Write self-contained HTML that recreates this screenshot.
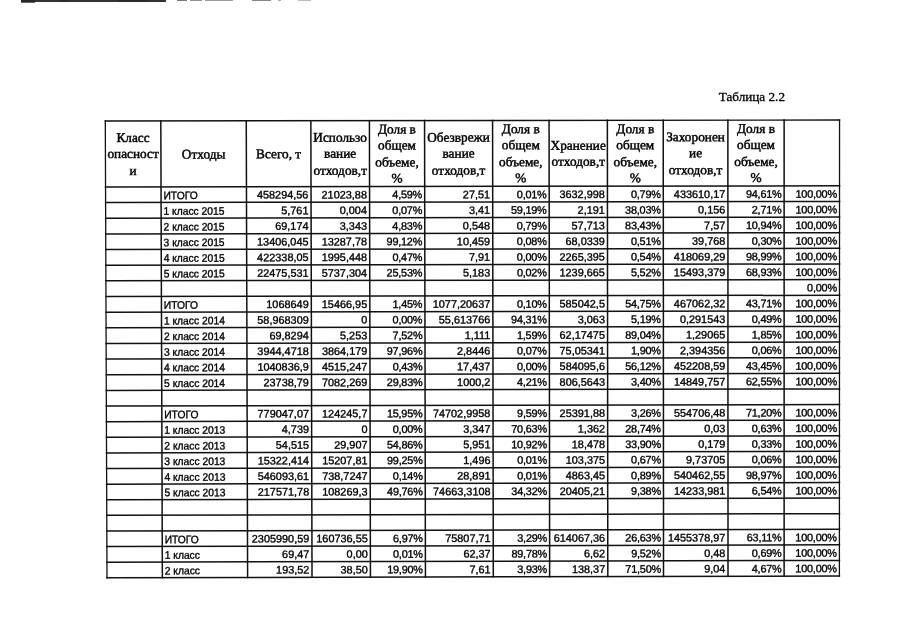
<!DOCTYPE html>
<html lang="ru">
<head>
<meta charset="utf-8">
<title>Таблица 2.2</title>
<style>
html,body{margin:0;padding:0;background:#fff;}
body{width:905px;height:640px;overflow:hidden;position:relative;}
#page{position:absolute;left:0;top:0;width:905px;height:640px;background:#fff;overflow:hidden;}
#grid{position:absolute;left:0;top:0;width:905px;height:640px;}
.c{position:absolute;white-space:nowrap;font-family:"Liberation Sans",sans-serif;font-size:10.9px;line-height:15.628px;height:15.628px;color:#000;-webkit-text-stroke:0.35px #000;}
.r{text-align:right;transform-origin:100% 50%;}
.l{text-align:left;transform-origin:0 50%;}
.p{letter-spacing:-0.22px;}
.hd{position:absolute;text-align:center;transform-origin:50% 50%;white-space:nowrap;font-family:"Liberation Serif",serif;font-size:13.3px;line-height:16.4px;color:#000;-webkit-text-stroke:0.45px #000;}
#cap{position:absolute;left:718.7px;top:88.5px;font-family:"Liberation Serif",serif;font-size:13.2px;line-height:16px;color:#000;white-space:nowrap;-webkit-text-stroke:0.3px #000;}
.art{position:absolute;background:#222;}
</style>
</head>
<body>
<div id="page">
<div class="art" style="left:20.5px;top:0;width:145px;height:1.7px;opacity:0.92"></div>
<div class="art" style="left:21px;top:0;width:14px;height:2.6px;opacity:0.7"></div>
<div class="art" style="left:60px;top:0;width:8px;height:2.4px;opacity:0.5"></div>
<div class="art" style="left:118px;top:0;width:30px;height:2.3px;opacity:0.45"></div>
<div class="art" style="left:177px;top:0;width:10px;height:1.4px;opacity:0.6"></div>
<div class="art" style="left:190px;top:0;width:12px;height:1.3px;opacity:0.5"></div>
<div class="art" style="left:205px;top:0;width:28px;height:1.2px;opacity:0.45"></div>
<div class="art" style="left:252px;top:0;width:19px;height:1.4px;opacity:0.55"></div>
<div class="art" style="left:278px;top:0;width:3px;height:1.2px;opacity:0.4"></div>
<div class="art" style="left:298px;top:0;width:13px;height:1.0px;opacity:0.3"></div>
<div id="cap">Таблица 2.2</div>
<svg id="grid" width="905" height="640" viewBox="0 0 905 640"><g stroke="#111" stroke-linecap="square" fill="none">
<line x1="105.30" y1="121.00" x2="107.00" y2="577.80" stroke-width="1.3"/>
<line x1="160.81" y1="120.93" x2="162.37" y2="577.66" stroke-width="1.5"/>
<line x1="246.26" y1="120.82" x2="247.61" y2="577.45" stroke-width="1.5"/>
<line x1="310.85" y1="120.73" x2="312.03" y2="577.30" stroke-width="1.5"/>
<line x1="369.41" y1="120.66" x2="370.44" y2="577.15" stroke-width="1.5"/>
<line x1="424.55" y1="120.59" x2="425.44" y2="577.02" stroke-width="1.5"/>
<line x1="492.57" y1="120.50" x2="493.30" y2="576.85" stroke-width="1.5"/>
<line x1="549.08" y1="120.43" x2="549.66" y2="576.71" stroke-width="1.5"/>
<line x1="607.37" y1="120.35" x2="607.80" y2="576.57" stroke-width="1.5"/>
<line x1="663.24" y1="120.28" x2="663.53" y2="576.43" stroke-width="1.5"/>
<line x1="727.89" y1="120.19" x2="728.02" y2="576.27" stroke-width="1.5"/>
<line x1="784.13" y1="120.12" x2="784.12" y2="576.14" stroke-width="1.5"/>
<line x1="839.55" y1="120.05" x2="839.40" y2="576.00" stroke-width="1.3"/>
<line x1="105.30" y1="121.00" x2="839.55" y2="120.05" stroke-width="1.4"/>
<line x1="105.55" y1="186.90" x2="839.53" y2="185.83" stroke-width="1.5"/>
<line x1="105.60" y1="202.57" x2="839.52" y2="201.47" stroke-width="1.5"/>
<line x1="105.66" y1="218.23" x2="839.52" y2="217.10" stroke-width="1.5"/>
<line x1="105.72" y1="233.90" x2="839.51" y2="232.74" stroke-width="1.5"/>
<line x1="105.78" y1="249.56" x2="839.51" y2="248.37" stroke-width="1.5"/>
<line x1="105.84" y1="265.21" x2="839.50" y2="264.00" stroke-width="1.5"/>
<line x1="105.89" y1="280.87" x2="839.50" y2="279.62" stroke-width="1.5"/>
<line x1="105.95" y1="296.52" x2="839.49" y2="295.24" stroke-width="1.5"/>
<line x1="106.01" y1="312.17" x2="839.49" y2="310.87" stroke-width="1.5"/>
<line x1="106.07" y1="327.82" x2="839.48" y2="326.48" stroke-width="1.5"/>
<line x1="106.13" y1="343.46" x2="839.48" y2="342.10" stroke-width="1.5"/>
<line x1="106.19" y1="359.10" x2="839.47" y2="357.71" stroke-width="1.5"/>
<line x1="106.24" y1="374.74" x2="839.47" y2="373.32" stroke-width="1.5"/>
<line x1="106.30" y1="390.38" x2="839.46" y2="388.93" stroke-width="1.5"/>
<line x1="106.36" y1="406.01" x2="839.46" y2="404.53" stroke-width="1.5"/>
<line x1="106.42" y1="421.64" x2="839.45" y2="420.13" stroke-width="1.5"/>
<line x1="106.48" y1="437.27" x2="839.45" y2="435.73" stroke-width="1.5"/>
<line x1="106.54" y1="452.90" x2="839.44" y2="451.33" stroke-width="1.5"/>
<line x1="106.59" y1="468.52" x2="839.44" y2="466.92" stroke-width="1.5"/>
<line x1="106.65" y1="484.14" x2="839.43" y2="482.51" stroke-width="1.5"/>
<line x1="106.71" y1="499.75" x2="839.43" y2="498.10" stroke-width="1.5"/>
<line x1="106.77" y1="515.37" x2="839.42" y2="513.69" stroke-width="1.5"/>
<line x1="106.83" y1="530.98" x2="839.42" y2="529.27" stroke-width="1.5"/>
<line x1="106.88" y1="546.59" x2="839.41" y2="544.85" stroke-width="1.5"/>
<line x1="106.94" y1="562.20" x2="839.41" y2="560.43" stroke-width="1.5"/>
<line x1="107.00" y1="577.80" x2="839.40" y2="576.00" stroke-width="1.5"/>
</g></svg>
<div class="hd" style="left:133px;top:130px;transform:translate(0.09px,0.04px) translateX(-50%) rotate(-0.11deg)">Класс<br>опасност<br>и</div>
<div class="hd" style="left:203px;top:146px;transform:translate(0.62px,0.40px) translateX(-50%) rotate(-0.11deg)">Отходы</div>
<div class="hd" style="left:278px;top:146px;transform:translate(0.63px,0.30px) translateX(-50%) rotate(-0.11deg)">Всего, т</div>
<div class="hd" style="left:340px;top:129px;transform:translate(0.15px,0.77px) translateX(-50%) rotate(-0.11deg)">Использо<br>вание<br>отходов,т</div>
<div class="hd" style="left:396px;top:121px;transform:translate(0.98px,0.47px) translateX(-50%) rotate(-0.11deg)">Доля в<br>общем<br>объеме,<br>%</div>
<div class="hd" style="left:458px;top:129px;transform:translate(0.58px,0.62px) translateX(-50%) rotate(-0.11deg)">Обезврежи<br>вание<br>отходов,т</div>
<div class="hd" style="left:520px;top:121px;transform:translate(0.83px,0.31px) translateX(-50%) rotate(-0.11deg)">Доля в<br>общем<br>объеме,<br>%</div>
<div class="hd" style="left:578px;top:137px;transform:translate(0.25px,0.67px) translateX(-50%) rotate(-0.11deg)">Хранение<br>отходов,т</div>
<div class="hd" style="left:635px;top:121px;transform:translate(0.31px,0.17px) translateX(-50%) rotate(-0.11deg)">Доля в<br>общем<br>объеме,<br>%</div>
<div class="hd" style="left:695px;top:129px;transform:translate(0.57px,0.30px) translateX(-50%) rotate(-0.11deg)">Захоронен<br>ие<br>отходов,т</div>
<div class="hd" style="left:756px;top:121px;transform:translate(0.01px,0.01px) translateX(-50%) rotate(-0.11deg)">Доля в<br>общем<br>объеме,<br>%</div>
<div class="c l" style="left:163px;top:188px;transform:translate(0.45px,0.17px) rotate(-0.11deg) scaleX(0.945)">ИТОГО</div>
<div class="c r" style="left:308px;top:187px;transform:translate(0.42px,0.46px) translateX(-100%) rotate(-0.11deg)">458294,56</div>
<div class="c r" style="left:366px;top:187px;transform:translate(0.96px,0.37px) translateX(-100%) rotate(-0.11deg)">21023,88</div>
<div class="c r p" style="left:422px;top:187px;transform:translate(0.08px,0.29px) translateX(-100%) rotate(-0.11deg)">4,59%</div>
<div class="c r" style="left:490px;top:187px;transform:translate(0.08px,0.19px) translateX(-100%) rotate(-0.11deg)">27,51</div>
<div class="c r p" style="left:546px;top:187px;transform:translate(0.57px,0.11px) translateX(-100%) rotate(-0.11deg)">0,01%</div>
<div class="c r" style="left:604px;top:187px;transform:translate(0.83px,0.02px) translateX(-100%) rotate(-0.11deg)">3632,998</div>
<div class="c r p" style="left:660px;top:186px;transform:translate(0.69px,0.94px) translateX(-100%) rotate(-0.11deg)">0,79%</div>
<div class="c r" style="left:725px;top:186px;transform:translate(0.31px,0.84px) translateX(-100%) rotate(-0.11deg)">433610,17</div>
<div class="c r p" style="left:781px;top:186px;transform:translate(0.53px,0.76px) translateX(-100%) rotate(-0.11deg)">94,61%</div>
<div class="c r p" style="left:836px;top:186px;transform:translate(0.93px,0.68px) translateX(-100%) rotate(-0.11deg)">100,00%</div>
<div class="c l" style="left:163px;top:203px;transform:translate(0.50px,0.83px) rotate(-0.11deg) scaleX(0.945)">1 класс 2015</div>
<div class="c r" style="left:308px;top:203px;transform:translate(0.46px,0.12px) translateX(-100%) rotate(-0.11deg)">5,761</div>
<div class="c r" style="left:366px;top:203px;transform:translate(0.99px,0.03px) translateX(-100%) rotate(-0.11deg)">0,004</div>
<div class="c r p" style="left:422px;top:202px;transform:translate(0.11px,0.94px) translateX(-100%) rotate(-0.11deg)">0,07%</div>
<div class="c r" style="left:490px;top:202px;transform:translate(0.11px,0.84px) translateX(-100%) rotate(-0.11deg)">3,41</div>
<div class="c r p" style="left:546px;top:202px;transform:translate(0.59px,0.76px) translateX(-100%) rotate(-0.11deg)">59,19%</div>
<div class="c r" style="left:604px;top:202px;transform:translate(0.85px,0.67px) translateX(-100%) rotate(-0.11deg)">2,191</div>
<div class="c r p" style="left:660px;top:202px;transform:translate(0.70px,0.59px) translateX(-100%) rotate(-0.11deg)">38,03%</div>
<div class="c r" style="left:725px;top:202px;transform:translate(0.32px,0.49px) translateX(-100%) rotate(-0.11deg)">0,156</div>
<div class="c r p" style="left:781px;top:202px;transform:translate(0.53px,0.40px) translateX(-100%) rotate(-0.11deg)">2,71%</div>
<div class="c r p" style="left:836px;top:202px;transform:translate(0.93px,0.32px) translateX(-100%) rotate(-0.11deg)">100,00%</div>
<div class="c l" style="left:163px;top:219px;transform:translate(0.55px,0.50px) rotate(-0.11deg) scaleX(0.945)">2 класс 2015</div>
<div class="c r" style="left:308px;top:218px;transform:translate(0.50px,0.77px) translateX(-100%) rotate(-0.11deg)">69,174</div>
<div class="c r" style="left:367px;top:218px;transform:translate(0.03px,0.68px) translateX(-100%) rotate(-0.11deg)">3,343</div>
<div class="c r p" style="left:422px;top:218px;transform:translate(0.14px,0.60px) translateX(-100%) rotate(-0.11deg)">4,83%</div>
<div class="c r" style="left:490px;top:218px;transform:translate(0.13px,0.49px) translateX(-100%) rotate(-0.11deg)">0,548</div>
<div class="c r p" style="left:546px;top:218px;transform:translate(0.61px,0.41px) translateX(-100%) rotate(-0.11deg)">0,79%</div>
<div class="c r" style="left:604px;top:218px;transform:translate(0.86px,0.32px) translateX(-100%) rotate(-0.11deg)">57,713</div>
<div class="c r p" style="left:660px;top:218px;transform:translate(0.71px,0.23px) translateX(-100%) rotate(-0.11deg)">83,43%</div>
<div class="c r" style="left:725px;top:218px;transform:translate(0.32px,0.13px) translateX(-100%) rotate(-0.11deg)">7,57</div>
<div class="c r p" style="left:781px;top:218px;transform:translate(0.53px,0.04px) translateX(-100%) rotate(-0.11deg)">10,94%</div>
<div class="c r p" style="left:836px;top:217px;transform:translate(0.92px,0.96px) translateX(-100%) rotate(-0.11deg)">100,00%</div>
<div class="c l" style="left:163px;top:235px;transform:translate(0.61px,0.16px) rotate(-0.11deg) scaleX(0.945)">3 класс 2015</div>
<div class="c r" style="left:308px;top:234px;transform:translate(0.54px,0.43px) translateX(-100%) rotate(-0.11deg)">13406,045</div>
<div class="c r" style="left:367px;top:234px;transform:translate(0.06px,0.33px) translateX(-100%) rotate(-0.11deg)">13287,78</div>
<div class="c r p" style="left:422px;top:234px;transform:translate(0.17px,0.25px) translateX(-100%) rotate(-0.11deg)">99,12%</div>
<div class="c r" style="left:490px;top:234px;transform:translate(0.16px,0.14px) translateX(-100%) rotate(-0.11deg)">10,459</div>
<div class="c r p" style="left:546px;top:234px;transform:translate(0.63px,0.05px) translateX(-100%) rotate(-0.11deg)">0,08%</div>
<div class="c r" style="left:604px;top:233px;transform:translate(0.88px,0.96px) translateX(-100%) rotate(-0.11deg)">68,0339</div>
<div class="c r p" style="left:660px;top:233px;transform:translate(0.72px,0.87px) translateX(-100%) rotate(-0.11deg)">0,51%</div>
<div class="c r" style="left:725px;top:233px;transform:translate(0.33px,0.77px) translateX(-100%) rotate(-0.11deg)">39,768</div>
<div class="c r p" style="left:781px;top:233px;transform:translate(0.53px,0.68px) translateX(-100%) rotate(-0.11deg)">0,30%</div>
<div class="c r p" style="left:836px;top:233px;transform:translate(0.92px,0.59px) translateX(-100%) rotate(-0.11deg)">100,00%</div>
<div class="c l" style="left:163px;top:250px;transform:translate(0.66px,0.82px) rotate(-0.11deg) scaleX(0.945)">4 класс 2015</div>
<div class="c r" style="left:308px;top:250px;transform:translate(0.58px,0.08px) translateX(-100%) rotate(-0.11deg)">422338,05</div>
<div class="c r" style="left:367px;top:249px;transform:translate(0.10px,0.98px) translateX(-100%) rotate(-0.11deg)">1995,448</div>
<div class="c r p" style="left:422px;top:249px;transform:translate(0.20px,0.90px) translateX(-100%) rotate(-0.11deg)">0,47%</div>
<div class="c r" style="left:490px;top:249px;transform:translate(0.18px,0.78px) translateX(-100%) rotate(-0.11deg)">7,91</div>
<div class="c r p" style="left:546px;top:249px;transform:translate(0.65px,0.69px) translateX(-100%) rotate(-0.11deg)">0,00%</div>
<div class="c r" style="left:604px;top:249px;transform:translate(0.89px,0.60px) translateX(-100%) rotate(-0.11deg)">2265,395</div>
<div class="c r p" style="left:660px;top:249px;transform:translate(0.73px,0.51px) translateX(-100%) rotate(-0.11deg)">0,54%</div>
<div class="c r" style="left:725px;top:249px;transform:translate(0.33px,0.40px) translateX(-100%) rotate(-0.11deg)">418069,29</div>
<div class="c r p" style="left:781px;top:249px;transform:translate(0.53px,0.31px) translateX(-100%) rotate(-0.11deg)">98,99%</div>
<div class="c r p" style="left:836px;top:249px;transform:translate(0.91px,0.22px) translateX(-100%) rotate(-0.11deg)">100,00%</div>
<div class="c l" style="left:163px;top:266px;transform:translate(0.71px,0.47px) rotate(-0.11deg) scaleX(0.945)">5 класс 2015</div>
<div class="c r" style="left:308px;top:265px;transform:translate(0.62px,0.73px) translateX(-100%) rotate(-0.11deg)">22475,531</div>
<div class="c r" style="left:367px;top:265px;transform:translate(0.13px,0.63px) translateX(-100%) rotate(-0.11deg)">5737,304</div>
<div class="c r p" style="left:422px;top:265px;transform:translate(0.23px,0.54px) translateX(-100%) rotate(-0.11deg)">25,53%</div>
<div class="c r" style="left:490px;top:265px;transform:translate(0.21px,0.43px) translateX(-100%) rotate(-0.11deg)">5,183</div>
<div class="c r p" style="left:546px;top:265px;transform:translate(0.67px,0.33px) translateX(-100%) rotate(-0.11deg)">0,02%</div>
<div class="c r" style="left:604px;top:265px;transform:translate(0.91px,0.24px) translateX(-100%) rotate(-0.11deg)">1239,665</div>
<div class="c r p" style="left:660px;top:265px;transform:translate(0.74px,0.14px) translateX(-100%) rotate(-0.11deg)">5,52%</div>
<div class="c r" style="left:725px;top:265px;transform:translate(0.34px,0.04px) translateX(-100%) rotate(-0.11deg)">15493,379</div>
<div class="c r p" style="left:781px;top:264px;transform:translate(0.53px,0.94px) translateX(-100%) rotate(-0.11deg)">68,93%</div>
<div class="c r p" style="left:836px;top:264px;transform:translate(0.91px,0.85px) translateX(-100%) rotate(-0.11deg)">100,00%</div>
<div class="c r p" style="left:836px;top:280px;transform:translate(0.90px,0.48px) translateX(-100%) rotate(-0.11deg)">0,00%</div>
<div class="c l" style="left:163px;top:297px;transform:translate(0.82px,0.77px) rotate(-0.11deg) scaleX(0.945)">ИТОГО</div>
<div class="c r" style="left:308px;top:297px;transform:translate(0.70px,0.02px) translateX(-100%) rotate(-0.11deg)">1068649</div>
<div class="c r" style="left:367px;top:296px;transform:translate(0.21px,0.92px) translateX(-100%) rotate(-0.11deg)">15466,95</div>
<div class="c r p" style="left:422px;top:296px;transform:translate(0.29px,0.82px) translateX(-100%) rotate(-0.11deg)">1,45%</div>
<div class="c r" style="left:490px;top:296px;transform:translate(0.26px,0.70px) translateX(-100%) rotate(-0.11deg)">1077,20637</div>
<div class="c r p" style="left:546px;top:296px;transform:translate(0.71px,0.61px) translateX(-100%) rotate(-0.11deg)">0,10%</div>
<div class="c r" style="left:604px;top:296px;transform:translate(0.94px,0.50px) translateX(-100%) rotate(-0.11deg)">585042,5</div>
<div class="c r p" style="left:660px;top:296px;transform:translate(0.76px,0.41px) translateX(-100%) rotate(-0.11deg)">54,75%</div>
<div class="c r" style="left:725px;top:296px;transform:translate(0.34px,0.29px) translateX(-100%) rotate(-0.11deg)">467062,32</div>
<div class="c r p" style="left:781px;top:296px;transform:translate(0.53px,0.20px) translateX(-100%) rotate(-0.11deg)">43,71%</div>
<div class="c r p" style="left:836px;top:296px;transform:translate(0.90px,0.10px) translateX(-100%) rotate(-0.11deg)">100,00%</div>
<div class="c l" style="left:163px;top:313px;transform:translate(0.87px,0.42px) rotate(-0.11deg) scaleX(0.945)">1 класс 2014</div>
<div class="c r" style="left:308px;top:312px;transform:translate(0.74px,0.66px) translateX(-100%) rotate(-0.11deg)">58,968309</div>
<div class="c r" style="left:367px;top:312px;transform:translate(0.24px,0.56px) translateX(-100%) rotate(-0.11deg)">0</div>
<div class="c r p" style="left:422px;top:312px;transform:translate(0.32px,0.46px) translateX(-100%) rotate(-0.11deg)">0,00%</div>
<div class="c r" style="left:490px;top:312px;transform:translate(0.28px,0.34px) translateX(-100%) rotate(-0.11deg)">55,613766</div>
<div class="c r p" style="left:546px;top:312px;transform:translate(0.73px,0.24px) translateX(-100%) rotate(-0.11deg)">94,31%</div>
<div class="c r" style="left:604px;top:312px;transform:translate(0.95px,0.13px) translateX(-100%) rotate(-0.11deg)">3,063</div>
<div class="c r p" style="left:660px;top:312px;transform:translate(0.77px,0.03px) translateX(-100%) rotate(-0.11deg)">5,19%</div>
<div class="c r" style="left:725px;top:311px;transform:translate(0.35px,0.92px) translateX(-100%) rotate(-0.11deg)">0,291543</div>
<div class="c r p" style="left:781px;top:311px;transform:translate(0.53px,0.82px) translateX(-100%) rotate(-0.11deg)">0,49%</div>
<div class="c r p" style="left:836px;top:311px;transform:translate(0.89px,0.72px) translateX(-100%) rotate(-0.11deg)">100,00%</div>
<div class="c l" style="left:163px;top:329px;transform:translate(0.93px,0.06px) rotate(-0.11deg) scaleX(0.945)">2 класс 2014</div>
<div class="c r" style="left:308px;top:328px;transform:translate(0.78px,0.30px) translateX(-100%) rotate(-0.11deg)">69,8294</div>
<div class="c r" style="left:367px;top:328px;transform:translate(0.28px,0.19px) translateX(-100%) rotate(-0.11deg)">5,253</div>
<div class="c r p" style="left:422px;top:328px;transform:translate(0.35px,0.09px) translateX(-100%) rotate(-0.11deg)">7,52%</div>
<div class="c r" style="left:490px;top:327px;transform:translate(0.31px,0.97px) translateX(-100%) rotate(-0.11deg)">1,111</div>
<div class="c r p" style="left:546px;top:327px;transform:translate(0.75px,0.87px) translateX(-100%) rotate(-0.11deg)">1,59%</div>
<div class="c r" style="left:604px;top:327px;transform:translate(0.97px,0.76px) translateX(-100%) rotate(-0.11deg)">62,17475</div>
<div class="c r p" style="left:660px;top:327px;transform:translate(0.78px,0.66px) translateX(-100%) rotate(-0.11deg)">89,04%</div>
<div class="c r" style="left:725px;top:327px;transform:translate(0.35px,0.54px) translateX(-100%) rotate(-0.11deg)">1,29065</div>
<div class="c r p" style="left:781px;top:327px;transform:translate(0.53px,0.44px) translateX(-100%) rotate(-0.11deg)">1,85%</div>
<div class="c r p" style="left:836px;top:327px;transform:translate(0.89px,0.34px) translateX(-100%) rotate(-0.11deg)">100,00%</div>
<div class="c l" style="left:163px;top:344px;transform:translate(0.98px,0.71px) rotate(-0.11deg) scaleX(0.945)">3 класс 2014</div>
<div class="c r" style="left:308px;top:343px;transform:translate(0.82px,0.94px) translateX(-100%) rotate(-0.11deg)">3944,4718</div>
<div class="c r" style="left:367px;top:343px;transform:translate(0.31px,0.83px) translateX(-100%) rotate(-0.11deg)">3864,179</div>
<div class="c r p" style="left:422px;top:343px;transform:translate(0.39px,0.72px) translateX(-100%) rotate(-0.11deg)">97,96%</div>
<div class="c r" style="left:490px;top:343px;transform:translate(0.33px,0.60px) translateX(-100%) rotate(-0.11deg)">2,8446</div>
<div class="c r p" style="left:546px;top:343px;transform:translate(0.77px,0.49px) translateX(-100%) rotate(-0.11deg)">0,07%</div>
<div class="c r" style="left:604px;top:343px;transform:translate(0.98px,0.38px) translateX(-100%) rotate(-0.11deg)">75,05341</div>
<div class="c r p" style="left:660px;top:343px;transform:translate(0.79px,0.28px) translateX(-100%) rotate(-0.11deg)">1,90%</div>
<div class="c r" style="left:725px;top:343px;transform:translate(0.36px,0.16px) translateX(-100%) rotate(-0.11deg)">2,394356</div>
<div class="c r p" style="left:781px;top:343px;transform:translate(0.53px,0.06px) translateX(-100%) rotate(-0.11deg)">0,06%</div>
<div class="c r p" style="left:836px;top:342px;transform:translate(0.88px,0.95px) translateX(-100%) rotate(-0.11deg)">100,00%</div>
<div class="c l" style="left:164px;top:360px;transform:translate(0.03px,0.34px) rotate(-0.11deg) scaleX(0.945)">4 класс 2014</div>
<div class="c r" style="left:308px;top:359px;transform:translate(0.87px,0.57px) translateX(-100%) rotate(-0.11deg)">1040836,9</div>
<div class="c r" style="left:367px;top:359px;transform:translate(0.35px,0.46px) translateX(-100%) rotate(-0.11deg)">4515,247</div>
<div class="c r p" style="left:422px;top:359px;transform:translate(0.42px,0.35px) translateX(-100%) rotate(-0.11deg)">0,43%</div>
<div class="c r" style="left:490px;top:359px;transform:translate(0.36px,0.22px) translateX(-100%) rotate(-0.11deg)">17,437</div>
<div class="c r p" style="left:546px;top:359px;transform:translate(0.79px,0.12px) translateX(-100%) rotate(-0.11deg)">0,00%</div>
<div class="c r" style="left:604px;top:359px;transform:translate(1.00px,0.01px) translateX(-100%) rotate(-0.11deg)">584095,6</div>
<div class="c r p" style="left:660px;top:358px;transform:translate(0.80px,0.90px) translateX(-100%) rotate(-0.11deg)">56,12%</div>
<div class="c r" style="left:725px;top:358px;transform:translate(0.36px,0.78px) translateX(-100%) rotate(-0.11deg)">452208,59</div>
<div class="c r p" style="left:781px;top:358px;transform:translate(0.53px,0.67px) translateX(-100%) rotate(-0.11deg)">43,45%</div>
<div class="c r p" style="left:836px;top:358px;transform:translate(0.88px,0.56px) translateX(-100%) rotate(-0.11deg)">100,00%</div>
<div class="c l" style="left:164px;top:375px;transform:translate(0.09px,0.98px) rotate(-0.11deg) scaleX(0.945)">5 класс 2014</div>
<div class="c r" style="left:308px;top:375px;transform:translate(0.91px,0.20px) translateX(-100%) rotate(-0.11deg)">23738,79</div>
<div class="c r" style="left:367px;top:375px;transform:translate(0.38px,0.09px) translateX(-100%) rotate(-0.11deg)">7082,269</div>
<div class="c r p" style="left:422px;top:374px;transform:translate(0.45px,0.98px) translateX(-100%) rotate(-0.11deg)">29,83%</div>
<div class="c r" style="left:490px;top:374px;transform:translate(0.38px,0.85px) translateX(-100%) rotate(-0.11deg)">1000,2</div>
<div class="c r p" style="left:546px;top:374px;transform:translate(0.81px,0.74px) translateX(-100%) rotate(-0.11deg)">4,21%</div>
<div class="c r" style="left:605px;top:374px;transform:translate(0.01px,0.62px) translateX(-100%) rotate(-0.11deg)">806,5643</div>
<div class="c r p" style="left:660px;top:374px;transform:translate(0.81px,0.52px) translateX(-100%) rotate(-0.11deg)">3,40%</div>
<div class="c r" style="left:725px;top:374px;transform:translate(0.37px,0.39px) translateX(-100%) rotate(-0.11deg)">14849,757</div>
<div class="c r p" style="left:781px;top:374px;transform:translate(0.53px,0.28px) translateX(-100%) rotate(-0.11deg)">62,55%</div>
<div class="c r p" style="left:836px;top:374px;transform:translate(0.87px,0.17px) translateX(-100%) rotate(-0.11deg)">100,00%</div>
<div class="c l" style="left:164px;top:407px;transform:translate(0.19px,0.25px) rotate(-0.11deg) scaleX(0.945)">ИТОГО</div>
<div class="c r" style="left:308px;top:406px;transform:translate(0.99px,0.45px) translateX(-100%) rotate(-0.11deg)">779047,07</div>
<div class="c r" style="left:367px;top:406px;transform:translate(0.46px,0.33px) translateX(-100%) rotate(-0.11deg)">124245,7</div>
<div class="c r p" style="left:422px;top:406px;transform:translate(0.51px,0.22px) translateX(-100%) rotate(-0.11deg)">15,95%</div>
<div class="c r" style="left:490px;top:406px;transform:translate(0.43px,0.09px) translateX(-100%) rotate(-0.11deg)">74702,9958</div>
<div class="c r p" style="left:546px;top:405px;transform:translate(0.85px,0.97px) translateX(-100%) rotate(-0.11deg)">9,59%</div>
<div class="c r" style="left:605px;top:405px;transform:translate(0.04px,0.85px) translateX(-100%) rotate(-0.11deg)">25391,88</div>
<div class="c r p" style="left:660px;top:405px;transform:translate(0.83px,0.74px) translateX(-100%) rotate(-0.11deg)">3,26%</div>
<div class="c r" style="left:725px;top:405px;transform:translate(0.38px,0.61px) translateX(-100%) rotate(-0.11deg)">554706,48</div>
<div class="c r p" style="left:781px;top:405px;transform:translate(0.53px,0.50px) translateX(-100%) rotate(-0.11deg)">71,20%</div>
<div class="c r p" style="left:836px;top:405px;transform:translate(0.86px,0.38px) translateX(-100%) rotate(-0.11deg)">100,00%</div>
<div class="c l" style="left:164px;top:422px;transform:translate(0.25px,0.87px) rotate(-0.11deg) scaleX(0.945)">1 класс 2013</div>
<div class="c r" style="left:309px;top:422px;transform:translate(0.03px,0.07px) translateX(-100%) rotate(-0.11deg)">4,739</div>
<div class="c r" style="left:367px;top:421px;transform:translate(0.49px,0.95px) translateX(-100%) rotate(-0.11deg)">0</div>
<div class="c r p" style="left:422px;top:421px;transform:translate(0.54px,0.84px) translateX(-100%) rotate(-0.11deg)">0,00%</div>
<div class="c r" style="left:490px;top:421px;transform:translate(0.46px,0.70px) translateX(-100%) rotate(-0.11deg)">3,347</div>
<div class="c r p" style="left:546px;top:421px;transform:translate(0.87px,0.58px) translateX(-100%) rotate(-0.11deg)">70,63%</div>
<div class="c r" style="left:605px;top:421px;transform:translate(0.06px,0.46px) translateX(-100%) rotate(-0.11deg)">1,362</div>
<div class="c r p" style="left:660px;top:421px;transform:translate(0.84px,0.35px) translateX(-100%) rotate(-0.11deg)">28,74%</div>
<div class="c r" style="left:725px;top:421px;transform:translate(0.38px,0.22px) translateX(-100%) rotate(-0.11deg)">0,03</div>
<div class="c r p" style="left:781px;top:421px;transform:translate(0.53px,0.10px) translateX(-100%) rotate(-0.11deg)">0,63%</div>
<div class="c r p" style="left:836px;top:420px;transform:translate(0.86px,0.99px) translateX(-100%) rotate(-0.11deg)">100,00%</div>
<div class="c l" style="left:164px;top:438px;transform:translate(0.30px,0.50px) rotate(-0.11deg) scaleX(0.945)">2 класс 2013</div>
<div class="c r" style="left:309px;top:437px;transform:translate(0.07px,0.69px) translateX(-100%) rotate(-0.11deg)">54,515</div>
<div class="c r" style="left:367px;top:437px;transform:translate(0.53px,0.57px) translateX(-100%) rotate(-0.11deg)">29,907</div>
<div class="c r p" style="left:422px;top:437px;transform:translate(0.57px,0.46px) translateX(-100%) rotate(-0.11deg)">54,86%</div>
<div class="c r" style="left:490px;top:437px;transform:translate(0.48px,0.31px) translateX(-100%) rotate(-0.11deg)">5,951</div>
<div class="c r p" style="left:546px;top:437px;transform:translate(0.89px,0.19px) translateX(-100%) rotate(-0.11deg)">10,92%</div>
<div class="c r" style="left:605px;top:437px;transform:translate(0.08px,0.07px) translateX(-100%) rotate(-0.11deg)">18,478</div>
<div class="c r p" style="left:660px;top:436px;transform:translate(0.85px,0.96px) translateX(-100%) rotate(-0.11deg)">33,90%</div>
<div class="c r" style="left:725px;top:436px;transform:translate(0.39px,0.82px) translateX(-100%) rotate(-0.11deg)">0,179</div>
<div class="c r p" style="left:781px;top:436px;transform:translate(0.53px,0.70px) translateX(-100%) rotate(-0.11deg)">0,33%</div>
<div class="c r p" style="left:836px;top:436px;transform:translate(0.85px,0.59px) translateX(-100%) rotate(-0.11deg)">100,00%</div>
<div class="c l" style="left:164px;top:454px;transform:translate(0.35px,0.12px) rotate(-0.11deg) scaleX(0.945)">3 класс 2013</div>
<div class="c r" style="left:309px;top:453px;transform:translate(0.11px,0.31px) translateX(-100%) rotate(-0.11deg)">15322,414</div>
<div class="c r" style="left:367px;top:453px;transform:translate(0.56px,0.19px) translateX(-100%) rotate(-0.11deg)">15207,81</div>
<div class="c r p" style="left:422px;top:453px;transform:translate(0.60px,0.07px) translateX(-100%) rotate(-0.11deg)">99,25%</div>
<div class="c r" style="left:490px;top:452px;transform:translate(0.51px,0.92px) translateX(-100%) rotate(-0.11deg)">1,496</div>
<div class="c r p" style="left:546px;top:452px;transform:translate(0.91px,0.80px) translateX(-100%) rotate(-0.11deg)">0,01%</div>
<div class="c r" style="left:605px;top:452px;transform:translate(0.09px,0.68px) translateX(-100%) rotate(-0.11deg)">103,375</div>
<div class="c r p" style="left:660px;top:452px;transform:translate(0.86px,0.56px) translateX(-100%) rotate(-0.11deg)">0,67%</div>
<div class="c r" style="left:725px;top:452px;transform:translate(0.39px,0.42px) translateX(-100%) rotate(-0.11deg)">9,73705</div>
<div class="c r p" style="left:781px;top:452px;transform:translate(0.53px,0.30px) translateX(-100%) rotate(-0.11deg)">0,06%</div>
<div class="c r p" style="left:836px;top:452px;transform:translate(0.85px,0.18px) translateX(-100%) rotate(-0.11deg)">100,00%</div>
<div class="c l" style="left:164px;top:469px;transform:translate(0.41px,0.74px) rotate(-0.11deg) scaleX(0.945)">4 класс 2013</div>
<div class="c r" style="left:309px;top:468px;transform:translate(0.15px,0.93px) translateX(-100%) rotate(-0.11deg)">546093,61</div>
<div class="c r" style="left:367px;top:468px;transform:translate(0.60px,0.80px) translateX(-100%) rotate(-0.11deg)">738,7247</div>
<div class="c r p" style="left:422px;top:468px;transform:translate(0.63px,0.68px) translateX(-100%) rotate(-0.11deg)">0,14%</div>
<div class="c r" style="left:490px;top:468px;transform:translate(0.53px,0.53px) translateX(-100%) rotate(-0.11deg)">28,891</div>
<div class="c r p" style="left:546px;top:468px;transform:translate(0.93px,0.41px) translateX(-100%) rotate(-0.11deg)">0,01%</div>
<div class="c r" style="left:605px;top:468px;transform:translate(0.11px,0.28px) translateX(-100%) rotate(-0.11deg)">4863,45</div>
<div class="c r p" style="left:660px;top:468px;transform:translate(0.87px,0.16px) translateX(-100%) rotate(-0.11deg)">0,89%</div>
<div class="c r" style="left:725px;top:468px;transform:translate(0.40px,0.02px) translateX(-100%) rotate(-0.11deg)">540462,55</div>
<div class="c r p" style="left:781px;top:467px;transform:translate(0.53px,0.90px) translateX(-100%) rotate(-0.11deg)">98,97%</div>
<div class="c r p" style="left:836px;top:467px;transform:translate(0.84px,0.77px) translateX(-100%) rotate(-0.11deg)">100,00%</div>
<div class="c l" style="left:164px;top:485px;transform:translate(0.46px,0.36px) rotate(-0.11deg) scaleX(0.945)">5 класс 2013</div>
<div class="c r" style="left:309px;top:484px;transform:translate(0.19px,0.54px) translateX(-100%) rotate(-0.11deg)">217571,78</div>
<div class="c r" style="left:367px;top:484px;transform:translate(0.63px,0.41px) translateX(-100%) rotate(-0.11deg)">108269,3</div>
<div class="c r p" style="left:422px;top:484px;transform:translate(0.66px,0.29px) translateX(-100%) rotate(-0.11deg)">49,76%</div>
<div class="c r" style="left:490px;top:484px;transform:translate(0.56px,0.13px) translateX(-100%) rotate(-0.11deg)">74663,3108</div>
<div class="c r p" style="left:546px;top:484px;transform:translate(0.95px,0.01px) translateX(-100%) rotate(-0.11deg)">34,32%</div>
<div class="c r" style="left:605px;top:483px;transform:translate(0.12px,0.88px) translateX(-100%) rotate(-0.11deg)">20405,21</div>
<div class="c r p" style="left:660px;top:483px;transform:translate(0.88px,0.76px) translateX(-100%) rotate(-0.11deg)">9,38%</div>
<div class="c r" style="left:725px;top:483px;transform:translate(0.40px,0.61px) translateX(-100%) rotate(-0.11deg)">14233,981</div>
<div class="c r p" style="left:781px;top:483px;transform:translate(0.53px,0.49px) translateX(-100%) rotate(-0.11deg)">6,54%</div>
<div class="c r p" style="left:836px;top:483px;transform:translate(0.84px,0.37px) translateX(-100%) rotate(-0.11deg)">100,00%</div>
<div class="c l" style="left:164px;top:532px;transform:translate(0.62px,0.19px) rotate(-0.11deg) scaleX(0.945)">ИТОГО</div>
<div class="c r" style="left:309px;top:531px;transform:translate(0.31px,0.36px) translateX(-100%) rotate(-0.11deg)">2305990,59</div>
<div class="c r" style="left:367px;top:531px;transform:translate(0.74px,0.22px) translateX(-100%) rotate(-0.11deg)">160736,55</div>
<div class="c r p" style="left:422px;top:531px;transform:translate(0.76px,0.09px) translateX(-100%) rotate(-0.11deg)">6,97%</div>
<div class="c r" style="left:490px;top:530px;transform:translate(0.63px,0.93px) translateX(-100%) rotate(-0.11deg)">75807,71</div>
<div class="c r p" style="left:547px;top:530px;transform:translate(0.01px,0.80px) translateX(-100%) rotate(-0.11deg)">3,29%</div>
<div class="c r" style="left:605px;top:530px;transform:translate(0.17px,0.66px) translateX(-100%) rotate(-0.11deg)">614067,36</div>
<div class="c r p" style="left:660px;top:530px;transform:translate(0.91px,0.53px) translateX(-100%) rotate(-0.11deg)">26,63%</div>
<div class="c r" style="left:725px;top:530px;transform:translate(0.42px,0.38px) translateX(-100%) rotate(-0.11deg)">1455378,97</div>
<div class="c r p" style="left:781px;top:530px;transform:translate(0.53px,0.25px) translateX(-100%) rotate(-0.11deg)">63,11%</div>
<div class="c r p" style="left:836px;top:530px;transform:translate(0.82px,0.12px) translateX(-100%) rotate(-0.11deg)">100,00%</div>
<div class="c l" style="left:164px;top:547px;transform:translate(0.67px,0.80px) rotate(-0.11deg) scaleX(0.945)">1 класс</div>
<div class="c r" style="left:309px;top:546px;transform:translate(0.35px,0.96px) translateX(-100%) rotate(-0.11deg)">69,47</div>
<div class="c r" style="left:367px;top:546px;transform:translate(0.78px,0.82px) translateX(-100%) rotate(-0.11deg)">0,00</div>
<div class="c r p" style="left:422px;top:546px;transform:translate(0.79px,0.69px) translateX(-100%) rotate(-0.11deg)">0,01%</div>
<div class="c r" style="left:490px;top:546px;transform:translate(0.66px,0.53px) translateX(-100%) rotate(-0.11deg)">62,37</div>
<div class="c r p" style="left:547px;top:546px;transform:translate(0.03px,0.39px) translateX(-100%) rotate(-0.11deg)">89,78%</div>
<div class="c r" style="left:605px;top:546px;transform:translate(0.18px,0.25px) translateX(-100%) rotate(-0.11deg)">6,62</div>
<div class="c r p" style="left:660px;top:546px;transform:translate(0.92px,0.12px) translateX(-100%) rotate(-0.11deg)">9,52%</div>
<div class="c r" style="left:725px;top:545px;transform:translate(0.42px,0.97px) translateX(-100%) rotate(-0.11deg)">0,48</div>
<div class="c r p" style="left:781px;top:545px;transform:translate(0.53px,0.83px) translateX(-100%) rotate(-0.11deg)">0,69%</div>
<div class="c r p" style="left:836px;top:545px;transform:translate(0.82px,0.70px) translateX(-100%) rotate(-0.11deg)">100,00%</div>
<div class="c l" style="left:164px;top:563px;transform:translate(0.72px,0.40px) rotate(-0.11deg) scaleX(0.945)">2 класс</div>
<div class="c r" style="left:309px;top:562px;transform:translate(0.39px,0.56px) translateX(-100%) rotate(-0.11deg)">193,52</div>
<div class="c r" style="left:367px;top:562px;transform:translate(0.81px,0.41px) translateX(-100%) rotate(-0.11deg)">38,50</div>
<div class="c r p" style="left:422px;top:562px;transform:translate(0.82px,0.28px) translateX(-100%) rotate(-0.11deg)">19,90%</div>
<div class="c r" style="left:490px;top:562px;transform:translate(0.68px,0.12px) translateX(-100%) rotate(-0.11deg)">7,61</div>
<div class="c r p" style="left:547px;top:561px;transform:translate(0.05px,0.98px) translateX(-100%) rotate(-0.11deg)">3,93%</div>
<div class="c r" style="left:605px;top:561px;transform:translate(0.20px,0.84px) translateX(-100%) rotate(-0.11deg)">138,37</div>
<div class="c r p" style="left:660px;top:561px;transform:translate(0.93px,0.70px) translateX(-100%) rotate(-0.11deg)">71,50%</div>
<div class="c r" style="left:725px;top:561px;transform:translate(0.42px,0.55px) translateX(-100%) rotate(-0.11deg)">9,04</div>
<div class="c r p" style="left:781px;top:561px;transform:translate(0.53px,0.41px) translateX(-100%) rotate(-0.11deg)">4,67%</div>
<div class="c r p" style="left:836px;top:561px;transform:translate(0.82px,0.28px) translateX(-100%) rotate(-0.11deg)">100,00%</div>
</div>
</body>
</html>
